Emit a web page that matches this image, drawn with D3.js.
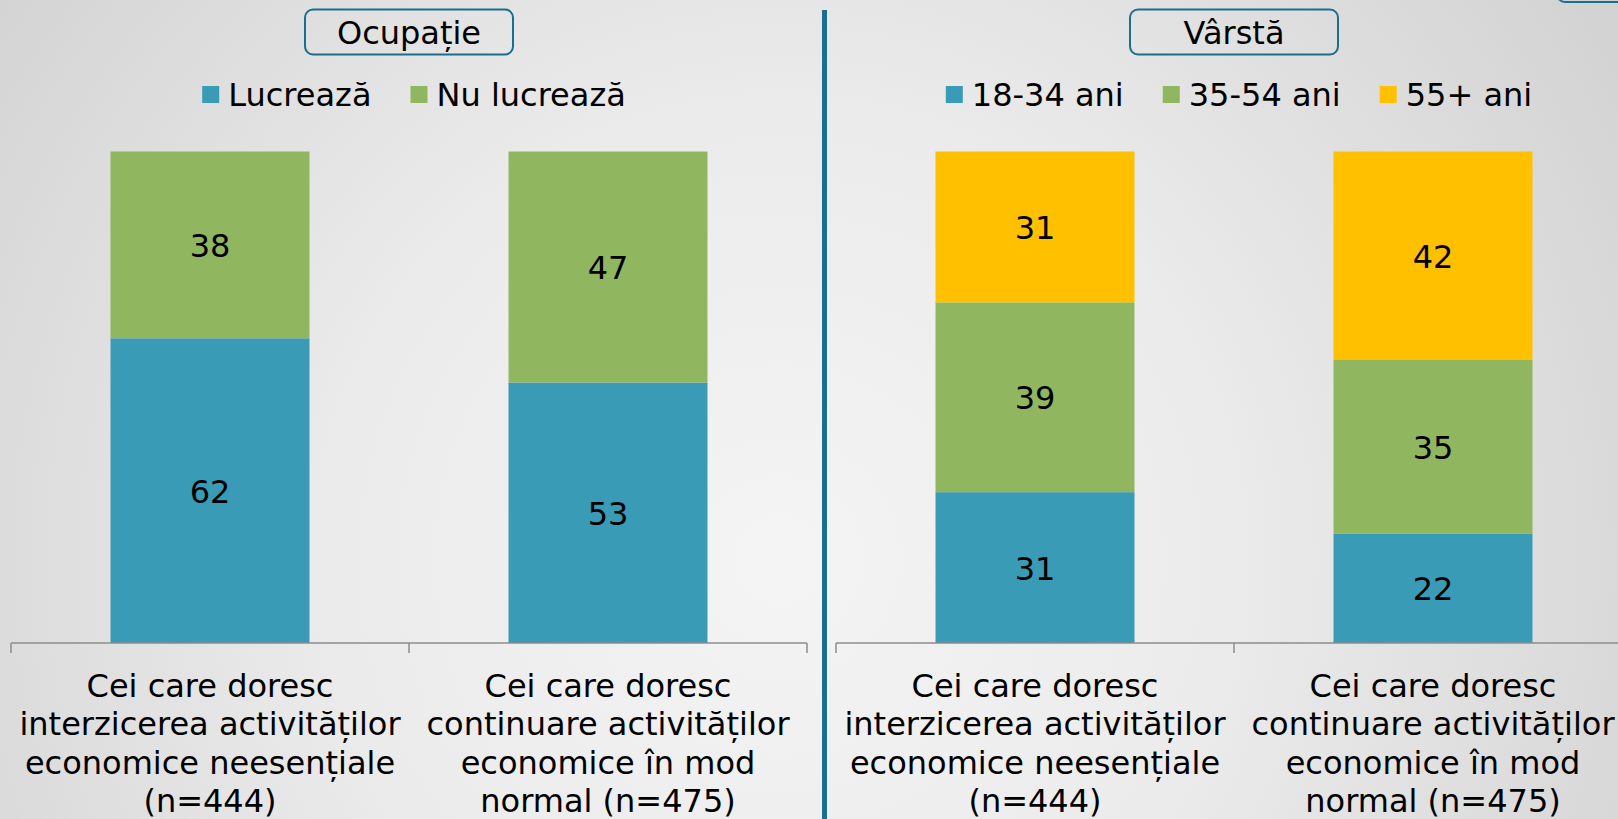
<!DOCTYPE html>
<html>
<head>
<meta charset="utf-8">
<script src="https://cdn.jsdelivr.net/npm/d3@7"></script>
<style>
  html, body { margin: 0; padding: 0; overflow: hidden; }
  svg { display: block; }
  text { font-family: "DejaVu Sans", Verdana, sans-serif; fill: #000; }
</style>
</head>
<body>
<svg id="chart"></svg>
<script>
var categories = [
  ["Cei care doresc", "interzicerea activităților", "economice neesențiale", "(n=444)"],
  ["Cei care doresc", "continuare activităților", "economice în mod", "normal (n=475)"]
];

var occupationTitle = "Ocupație";
var occupationKeys = ["Lucrează", "Nu lucrează"];
var occupationValues = [
  [62, 38],
  [53, 47]
];

var ageTitle = "Vârstă";
var ageKeys = ["18-34 ani", "35-54 ani", "55+ ani"];
var ageValues = [
  [31, 39, 31],
  [22, 35, 42]
];

var width = 1618, height = 819;
var teal = "#1a6f8e";

var svg = d3.select("#chart").attr("width", width).attr("height", height);

// background
var defs = svg.append("defs");
var grad = defs.append("radialGradient")
  .attr("id", "bg")
  .attr("gradientUnits", "userSpaceOnUse")
  .attr("cx", 780).attr("cy", 560).attr("r", 1000);
grad.append("stop").attr("offset", "0").attr("stop-color", "#f4f4f4");
grad.append("stop").attr("offset", "0.45").attr("stop-color", "#ebebeb");
grad.append("stop").attr("offset", "1").attr("stop-color", "#d2d2d2");
svg.append("rect").attr("width", width).attr("height", height).attr("fill", "url(#bg)");

var y = d3.scaleLinear().domain([0, 1]).range([643, 151.5]);

function drawPanel(x0, x1, title, keys, values, colors) {
  var g = svg.append("g");
  var x = d3.scaleBand()
    .domain(d3.range(categories.length))
    .range([x0, x1])
    .paddingInner(0.5)
    .paddingOuter(0.25);
  var color = d3.scaleOrdinal().domain(keys).range(colors);

  var rows = values.map(function (v, i) {
    var r = { idx: i };
    keys.forEach(function (k, j) { r[k] = v[j]; });
    return r;
  });
  var series = d3.stack().keys(keys).offset(d3.stackOffsetExpand)(rows);

  var layer = g.selectAll("g.layer")
    .data(series)
    .enter()
    .append("g")
    .attr("fill", function (d) { return color(d.key); });

  layer.selectAll("rect")
    .data(function (d) { return d; })
    .enter()
    .append("rect")
    .attr("x", function (d) { return x(d.data.idx); })
    .attr("width", x.bandwidth())
    .attr("y", function (d) { return y(d[1]); })
    .attr("height", function (d) { return y(d[0]) - y(d[1]); });

  layer.each(function (s) {
    d3.select(this).selectAll("text")
      .data(s)
      .enter()
      .append("text")
      .attr("x", function (d) { return x(d.data.idx) + x.bandwidth() / 2; })
      .attr("y", function (d) { return (y(d[0]) + y(d[1])) / 2 + 12; })
      .attr("text-anchor", "middle")
      .style("font-size", "32px")
      .text(function (d) { return d.data[s.key]; });
  });

  // category axis with ticks at band edges
  var step = x.step();
  var edges = d3.range(categories.length + 1).map(function (i) { return x0 + i * step; });
  g.append("line")
    .attr("x1", x0).attr("x2", x0 + categories.length * step)
    .attr("y1", y(0)).attr("y2", y(0))
    .attr("stroke", "#8c8c8c").attr("stroke-width", 1.5);
  g.selectAll("line.tick")
    .data(edges)
    .enter()
    .append("line")
    .attr("class", "tick")
    .attr("x1", function (d) { return d; }).attr("x2", function (d) { return d; })
    .attr("y1", y(0)).attr("y2", y(0) + 10)
    .attr("stroke", "#8c8c8c").attr("stroke-width", 1.5);

  categories.forEach(function (lines, i) {
    var t = g.append("text")
      .attr("text-anchor", "middle")
      .style("font-size", "32px");
    lines.forEach(function (ln, k) {
      t.append("tspan")
        .attr("x", x(i) + x.bandwidth() / 2)
        .attr("y", 696.5 + k * 38.5)
        .text(ln);
    });
  });

  // title box
  var cx = (x0 + x1) / 2;
  g.append("rect")
    .attr("x", cx - 104).attr("y", 9.5)
    .attr("width", 208).attr("height", 45)
    .attr("rx", 8)
    .attr("fill", "none")
    .attr("stroke", teal).attr("stroke-width", 2);
  g.append("text")
    .attr("x", cx).attr("y", 44)
    .attr("text-anchor", "middle")
    .style("font-size", "32px")
    .text(title);

  // legend
  var sw = 17, gapText = 9, gapItem = 39;
  var leg = g.append("g");
  var pos = 0;
  keys.forEach(function (k) {
    var it = leg.append("g").attr("transform", "translate(" + pos + ",0)");
    it.append("rect").attr("x", 0).attr("y", 86).attr("width", sw).attr("height", sw)
      .attr("fill", color(k));
    var tx = it.append("text").attr("x", sw + gapText).attr("y", 106)
      .style("font-size", "32px").text(k);
    pos += sw + gapText + tx.node().getComputedTextLength() + gapItem;
  });
  pos -= gapItem;
  leg.attr("transform", "translate(" + (cx + 5 - pos / 2) + ",0)");
}

drawPanel(11, 807, occupationTitle, occupationKeys, occupationValues, ["#3a9bb7", "#91b660"]);
drawPanel(836, 1632, ageTitle, ageKeys, ageValues, ["#3a9bb7", "#91b660", "#ffc000"]);

// divider
svg.append("line")
  .attr("x1", 824.5).attr("x2", 824.5)
  .attr("y1", 10).attr("y2", height)
  .attr("stroke", teal).attr("stroke-width", 5);

// partial box at top right corner
svg.append("rect")
  .attr("x", 1557).attr("y", -50)
  .attr("width", 160).attr("height", 52)
  .attr("rx", 8)
  .attr("fill", "none")
  .attr("stroke", teal).attr("stroke-width", 2);
</script>
</body>
</html>
